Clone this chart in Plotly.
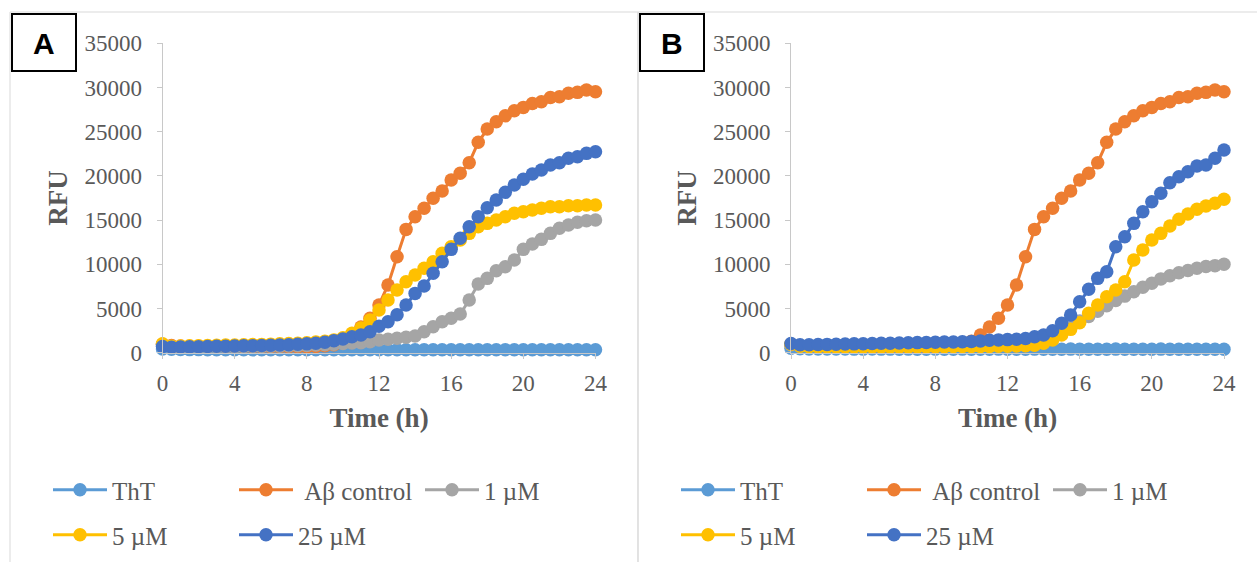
import plotly.graph_objects as go

# Sampling times (h)
time_h = [0, 0.5, 1, 1.5, 2, 2.5, 3, 3.5, 4, 4.5, 5, 5.5, 6, 6.5, 7, 7.5, 8, 8.5,
          9, 9.5, 10, 10.5, 11, 11.5, 12, 12.5, 13, 13.5, 14, 14.5, 15, 15.5,
          16, 16.5, 17, 17.5, 18, 18.5, 19, 19.5, 20, 20.5, 21, 21.5, 22, 22.5,
          23, 23.5, 24]

# Aβ control (shared by both panels)
abeta_control = [950, 820, 760, 740, 720, 700, 690, 680, 670, 660, 650, 650, 640,
                 640, 640, 650, 660, 700, 780, 900, 1300, 2000, 2900, 3900, 5400,
                 7660, 10860, 13950, 15380, 16330, 17460, 18290, 19530, 20290,
                 21490, 23800, 25300, 26130, 26800, 27370, 27750, 28200, 28390,
                 28880, 28950, 29340, 29450, 29710, 29520]

# Panel A
tht_a = [420, 380, 360, 350, 350, 345, 340, 340, 335, 340, 335, 330, 335, 330, 330,
         335, 330, 330, 325, 330, 330, 325, 330, 330, 325, 330, 325, 330, 330, 325,
         330, 325, 325, 330, 325, 330, 325, 325, 330, 325, 325, 330, 325, 325, 330,
         325, 325, 330, 330]
um1_a = [900, 600, 600, 610, 620, 630, 640, 650, 660, 670, 690, 700, 720, 740, 760,
         790, 820, 860, 900, 950, 1050, 1100, 1130, 1240, 1440, 1510, 1630, 1740,
         1890, 2380, 2940, 3510, 3890, 4380, 5960, 7770, 8410, 9270, 9730, 10480,
         11690, 12290, 12820, 13500, 14070, 14440, 14750, 14930, 15010]
um5_a = [1000, 740, 760, 780, 800, 820, 840, 860, 880, 900, 920, 940, 970, 1000,
         1030, 1070, 1120, 1200, 1300, 1450, 1700, 2200, 2800, 3700, 4830, 5960,
         7090, 8030, 8790, 9550, 10290, 11240, 11990, 12750, 13500, 14250, 14630,
         15010, 15380, 15770, 15950, 16140, 16330, 16510, 16510, 16630, 16630,
         16700, 16700]
um25_a = [700, 620, 640, 660, 680, 700, 720, 740, 760, 780, 800, 820, 850, 880, 910,
          950, 1000, 1080, 1180, 1350, 1550, 1800, 2000, 2380, 3000, 3500, 4300,
          5390, 6710, 7540, 8980, 10290, 11690, 12940, 14250, 15380, 16400, 17270,
          18140, 18970, 19610, 20210, 20660, 21230, 21490, 21990, 22170, 22550,
          22730]

# Panel B
tht_b = [500, 440, 420, 420, 410, 410, 410, 405, 405, 410, 405, 405, 400, 405, 400,
         400, 405, 400, 400, 405, 400, 400, 400, 405, 400, 400, 400, 405, 400, 400,
         400, 405, 400, 400, 400, 400, 405, 400, 400, 400, 400, 405, 400, 400, 400,
         400, 400, 400, 400]
um1_b = [900, 720, 700, 690, 690, 690, 690, 690, 690, 700, 700, 700, 710, 710, 720,
         720, 730, 730, 740, 740, 750, 760, 770, 780, 790, 800, 820, 900, 1300, 1800,
         2500, 3100, 3600, 4100, 4700, 5300, 5900, 6400, 6900, 7400, 7850, 8350,
         8700, 9050, 9300, 9550, 9750, 9850, 10000]
um5_b = [950, 720, 680, 660, 650, 650, 650, 650, 650, 650, 650, 660, 660, 660, 670,
         670, 680, 680, 690, 690, 700, 700, 710, 720, 730, 750, 780, 850, 1060, 1440,
         2000, 2640, 3400, 4450, 5390, 6330, 7090, 8030, 10480, 11620, 12750, 13500,
         14330, 15090, 15690, 16220, 16590, 16900, 17350]
um25_b = [1050, 900, 900, 920, 940, 960, 980, 1000, 1020, 1040, 1060, 1080, 1100,
          1120, 1140, 1160, 1180, 1200, 1220, 1250, 1280, 1320, 1400, 1450, 1480,
          1520, 1600, 1810, 2000, 2490, 3320, 4260, 5770, 7170, 8410, 9160, 11990,
          13120, 14630, 15950, 17080, 18030, 19230, 19910, 20470, 21120, 21230,
          21990, 22930]

series_names = ["ThT", "\u00a0Aβ control", "1 µM", "5 µM", "25 µM"]
series_colors = ["#5B9BD5", "#ED7D31", "#A5A5A5", "#FFC000", "#4472C4"]

x_ticks = [0, 4, 8, 12, 16, 20, 24]
y_ticks = [0, 5000, 10000, 15000, 20000, 25000, 30000, 35000]

W, H = 1257, 562
SERIF = "Liberation Serif"
TEXT_GRAY = "#595959"
AXIS_GRAY = "#C8C8C8"


def px_x(p):
    return p / W


def px_y(p):
    return 1 - p / H


fig = go.Figure()

panels = [
    ("x", "y", [tht_a, abeta_control, um1_a, um5_a, um25_a], ("legend", "legend2")),
    ("x2", "y2", [tht_b, abeta_control, um1_b, um5_b, um25_b], ("legend3", "legend4")),
]
for xa, ya, data, (leg_top, leg_bottom) in panels:
    for i, (name, color, values) in enumerate(zip(series_names, series_colors, data)):
        fig.add_trace(go.Scatter(
            x=time_h, y=values, name=name, xaxis=xa, yaxis=ya,
            mode="lines+markers",
            line=dict(color=color, width=3),
            marker=dict(color=color, size=13.5),
            cliponaxis=False,
            legend=leg_top if i < 3 else leg_bottom,
        ))

axis_common = dict(
    showline=True, linecolor=AXIS_GRAY, linewidth=1,
    ticks="outside", ticklen=5, tickcolor=AXIS_GRAY, tickwidth=1,
    showgrid=False, zeroline=False,
    tickfont=dict(family=SERIF, size=23, color=TEXT_GRAY),
)
title_font = dict(family=SERIF, size=27, color=TEXT_GRAY, weight="bold")

y_dom = [px_y(352.7), px_y(43.3)]
x_doms = [[px_x(162.5), px_x(595.5)], [px_x(791), px_x(1224)]]

layout_axes = {}
for k, suffix in enumerate(["", "2"]):
    layout_axes["xaxis" + suffix] = dict(
        axis_common, domain=x_doms[k], range=[0, 24], tickvals=x_ticks,
        anchor="y" + suffix, ticklabelstandoff=5,
        title=dict(text="Time (h)", font=title_font, standoff=12),
    )
    layout_axes["yaxis" + suffix] = dict(
        axis_common, domain=y_dom, range=[0, 35000], tickvals=y_ticks,
        tickformat="d", anchor="x" + suffix, ticklabelstandoff=10,
        title=dict(text="RFU", font=title_font, standoff=8),
    )

legend_common = dict(
    orientation="h", xanchor="left", yanchor="middle",
    itemwidth=54, entrywidth=117, entrywidthmode="pixels",
    font=dict(family=SERIF, size=25, color=TEXT_GRAY),
    bgcolor="rgba(0,0,0,0)", itemclick=False, itemdoubleclick=False,
)
legends = {
    "legend": dict(legend_common, x=px_x(48), y=px_y(490)),
    "legend2": dict(legend_common, x=px_x(48), y=px_y(535)),
    "legend3": dict(legend_common, x=px_x(676), y=px_y(490)),
    "legend4": dict(legend_common, x=px_x(676), y=px_y(535)),
}

shapes = [
    # chart-area borders
    dict(type="rect", xref="paper", yref="paper", x0=px_x(10), x1=px_x(638),
         y0=px_y(575), y1=px_y(12), line=dict(color="#D9D9D9", width=1)),
    dict(type="rect", xref="paper", yref="paper", x0=px_x(638), x1=px_x(1270),
         y0=px_y(575), y1=px_y(12), line=dict(color="#D9D9D9", width=1)),
    # panel label boxes
    dict(type="rect", xref="paper", yref="paper", x0=px_x(12), x1=px_x(76),
         y0=px_y(71), y1=px_y(14), line=dict(color="black", width=2),
         fillcolor="white"),
    dict(type="rect", xref="paper", yref="paper", x0=px_x(640), x1=px_x(704),
         y0=px_y(71), y1=px_y(14), line=dict(color="black", width=2),
         fillcolor="white"),
]
annotations = [
    dict(text="A", x=px_x(44), y=px_y(44), xref="paper", yref="paper",
         xanchor="center", yanchor="middle", showarrow=False,
         font=dict(family="Liberation Sans", size=30, color="black",
                   weight="bold")),
    dict(text="B", x=px_x(672), y=px_y(44), xref="paper", yref="paper",
         xanchor="center", yanchor="middle", showarrow=False,
         font=dict(family="Liberation Sans", size=30, color="black",
                   weight="bold")),
]

fig.update_layout(
    width=W, height=H, autosize=False,
    margin=dict(l=0, r=0, t=0, b=0, autoexpand=False),
    paper_bgcolor="white", plot_bgcolor="white",
    shapes=shapes, annotations=annotations,
    **layout_axes, **legends,
)

fig.write_html("out.html", config={"displayModeBar": False})
